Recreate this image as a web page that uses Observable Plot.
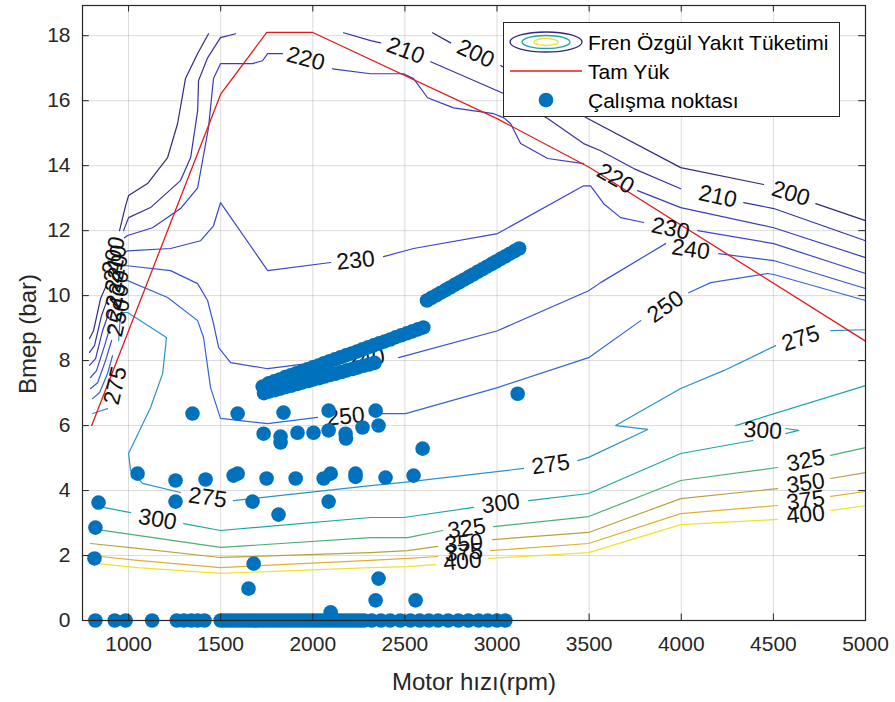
<!DOCTYPE html>
<html><head><meta charset="utf-8">
<script src="https://cdn.jsdelivr.net/npm/d3@7"></script>
<script src="https://cdn.jsdelivr.net/npm/@observablehq/plot@0.6"></script>
<style>
body{margin:0;background:#fff;font-family:"Liberation Sans",Arial,sans-serif;}
#wrap{position:relative;width:895px;height:702px;}
#legend{position:absolute;left:503px;top:22px;width:337px;height:95px;box-sizing:border-box;border:1px solid #262626;background:#fff;}
#legend svg{position:absolute;left:0;top:0;}
#legend .lt{position:absolute;left:84px;font-size:21px;line-height:21px;color:#000;white-space:nowrap;}
#ylab{position:absolute;left:28px;top:334px;transform:translate(-50%,-50%) rotate(-90deg);font-size:24px;line-height:24px;color:#262626;white-space:nowrap;}
</style></head>
<body><div id="wrap"></div>
<script>
// ---------- axes ----------
const xTicks = [1000,1500,2000,2500,3000,3500,4000,4500,5000];
const yTicks = [0,2,4,6,8,10,12,14,16,18];
const xDomain = [750, 5000];
const yDomain = [0, 18.93];

// ---------- contour levels (BSFC g/kWh) ----------
const levels = [200,210,220,230,240,250,275,300,325,350,375,400];
const levelColors = ["#2e2a7e","#3433a6","#3a3cc0","#3b46ca","#3a50d2","#3464d6","#2b92c8","#1ea6a6","#4caf74","#b8a23e","#deb02e","#ece42a"];

// each contour: list of segments, each segment list of [rpm, bmep]
const c200 = [
  [[788,8.68],[810,8.92],[848,9.91],[886,10.4]],
  [[951,12.0],[984,12.77],[1000,13.08],[1103,13.45],[1212,14.25],[1266,15.29],[1309,16.68],[1375,17.45],[1434,18.06]],
  [[2650,18.09],[2748,17.78]],
  [[3020,17.08],[3492,15.45],[3997,13.94],[4447,13.42]],
  [[4730,12.83],[5000,12.31]]
];
const c210 = [
  [[788,8.25],[815,8.46],[853,9.38],[891,9.97]],
  [[973,12.0],[1000,12.4],[1119,12.71],[1282,13.54],[1337,14.25],[1375,15.69],[1380,16.62],[1429,17.32],[1499,17.94],[1581,18.06]],
  [[2167,18.09],[2314,17.85],[2368,17.78]],
  [[2640,17.2],[3036,16.22],[3275,15.45],[3470,14.68],[3562,14.46],[3742,13.91],[3997,13.29]],
  [[4339,12.86],[4502,12.68],[5000,11.69]]
];
const c220 = [
  [[788,7.85],[821,8.06],[859,8.92],[897,9.54]],
  [[978,11.78],[995,11.85],[1130,12.09],[1282,12.68],[1375,13.32],[1434,15.17],[1461,16.68],[1499,17.14],[1673,17.14],[1727,17.23],[1755,17.45],[1836,17.45]],
  [[2107,16.98],[2314,16.83],[2493,16.83],[2547,16.68],[2623,16.09],[2764,15.78],[2981,15.6],[3036,15.48],[3074,15.29],[3128,14.68],[3275,14.22],[3470,14.06]],
  [[3763,13.23],[3997,12.71],[4502,12.09],[5000,11.17]]
];
const c230 = [
  [[794,7.48],[826,7.69],[870,8.46],[902,9.08]],
  [[978,11.32],[995,11.38],[1228,11.45],[1391,11.69],[1461,12.15],[1499,12.86],[1755,10.77],[2097,11.02]],
  [[2384,11.2],[2547,11.45],[3003,11.91],[3470,13.38],[3508,13.38],[3579,12.83],[3671,12.4],[3796,12.25]],
  [[4089,12.0],[4502,11.6],[5000,10.68]]
];
const c240 = [
  [[794,7.14],[832,7.32],[875,8.0],[908,8.62]],
  [[978,10.92],[995,10.92],[1228,10.77],[1375,10.37],[1429,9.85],[1461,9.14],[1489,8.4],[1554,7.94],[1755,7.75],[2097,8.0]],
  [[2466,8.09],[3003,8.92],[3497,10.15],[3562,10.4],[3915,11.6]],
  [[4203,11.29],[4502,11.08],[5000,10.22]]
];
const c250 = [
  [[805,6.83],[843,7.02],[886,7.6],[913,8.15]],
  [[978,10.46],[995,10.46],[1212,9.94],[1375,9.23],[1407,8.71],[1445,7.17],[1499,6.22],[1755,6.06],[2026,6.25]],
  [[2352,6.37],[2504,6.37],[3003,7.17],[3497,8.09],[3780,9.23]],
  [[4040,10.09],[4160,10.4],[4469,10.68],[4502,10.65],[5000,9.85]]
];
const c275 = [
  [[805,6.37],[886,6.52]],
  [[946,8.62],[957,9.48],[995,9.48],[1206,8.71],[1185,7.6],[1119,6.55],[1054,5.78],[1000,5.14],[1011,4.62],[1076,4.22],[1282,3.94]],
  [[1570,3.69],[2314,4.15],[2493,4.25],[3144,4.68]],
  [[3438,4.92],[3497,5.02],[3818,5.88],[3644,6.0],[3997,7.14],[4230,7.69],[4512,8.46]],
  [[4811,8.92],[5000,8.95]]
];
const c300 = [
  [[864,3.48],[1011,3.32]],
  [[1299,2.98],[1499,2.77],[2314,3.17],[2493,3.17],[2873,3.48]],
  [[3172,3.69],[3497,3.91],[3997,5.14],[4388,5.54]],
  [[4567,5.75],[4637,5.85],[4567,5.91]],
  [[4295,6.0],[5000,7.23]]
];
const c325 = [
  [[794,2.83],[1049,2.62],[1499,2.25],[2314,2.55],[2515,2.55],[2705,2.77]],
  [[2982,2.89],[3497,3.2],[3997,4.31],[4523,4.71]],
  [[4811,5.08],[5000,5.32]]
];
const c350 = [
  [[794,2.37],[1049,2.22],[1499,1.94],[2314,2.09],[2515,2.15],[2678,2.28]],
  [[2976,2.49],[3497,2.71],[3997,3.75],[4523,4.06]],
  [[4811,4.37],[5000,4.55]]
];
const c375 = [
  [[794,2.0],[1049,1.85],[1499,1.63],[2314,1.85],[2515,1.91],[2678,1.97]],
  [[2965,2.15],[3497,2.37],[3997,3.29],[4523,3.54]],
  [[4811,3.82],[5000,3.97]]
];
const c400 = [
  [[837,1.75],[1049,1.63],[1499,1.45],[2314,1.63],[2515,1.66],[2667,1.72]],
  [[2954,1.91],[3497,2.09],[3997,2.95],[4523,3.11]],
  [[4811,3.38],[5000,3.54]]
];
const contourSets = [c200,c210,c220,c230,c240,c250,c275,c300,c325,c350,c375,c400];

// inline contour labels: [rpm, bmep, level, angle]
const contourLabels = [
  [919,11.23,200,-77],[929,10.98,210,-77],[935,10.68,220,-77],[940,10.2,230,-77],[940,9.78,240,-77],[946,9.32,250,-77],[929,7.23,275,-77],
  [1961,17.29,220,15],[2504,17.54,210,21],[2884,17.45,200,25],
  [3644,13.6,220,30],[3942,12.06,230,12],[4198,13.05,210,12],[4594,13.14,200,17],[4051,11.42,240,8],[3915,9.66,250,-35],
  [2232,11.08,230,-6],[2287,8.06,240,-8],[2178,6.28,250,-5],
  [4648,8.68,275,-18],[3291,4.8,275,-8],[1429,3.78,275,8],
  [1157,3.11,300,10],[3020,3.6,300,-8],[4442,5.85,300,3],
  [2835,2.83,325,-8],[2819,2.37,350,-5],[2819,2.09,375,-5],[2813,1.82,400,-5],
  [4675,4.92,325,-12],[4675,4.22,350,-8],[4675,3.69,375,-8],[4675,3.26,400,-5]
];

// ---------- full load curve ----------
const fullLoadRpm  = [800, 1500, 1750, 2000, 3000, 3500, 5000];
const fullLoadBmep = [6.0, 16.2, 18.1, 18.1, 15.45, 13.95, 8.6];

// ---------- operating points ----------
const idleRpm = [820,925,984,1128,1262,1300,1340,1375,1412,1500,1520,1540,1560,1580,1600,1620,1640,1660,1680,1700,1720,1740,1760,1780,1800,1820,1840,1860,1880,1900,1920,1940,1960,1980,2000,2020,2040,2060,2080,2100,2120,2140,2160,2180,2200,2220,2240,2260,2280,2320,2370,2420,2475,2530,2580,2630,2680,2735,2790,2845,2900,2950,3000,3045];
const scatterPts = [
  [837,3.63],[820,2.86],[815,1.91],[1049,4.52],[1255,4.31],[1255,3.66],[1418,4.34],[1570,4.46],[1592,4.52],
  [1673,3.66],[1749,4.37],[1814,3.26],[1679,1.75],[1651,0.98],[1907,4.37],[2059,4.37],[2097,4.52],[2086,3.66],
  [2232,4.52],[2232,4.42],[1733,5.75],[1825,5.66],[1825,5.48],[1917,5.78],[2004,5.78],[2086,5.85],[2178,5.75],
  [2180,5.6],[2270,5.94],[1347,6.37],[1592,6.37],[1841,6.4],[2086,6.46],[2341,6.46],[2357,6.0],[3112,6.98],
  [2596,5.29],[2395,4.4],[2547,4.46],[2357,1.29],[2341,0.62],[2558,0.62],[2097,0.25]
];
const bandLow = [[1728,7.2],[1735,7.0],[1765,7.05],[1795,7.09],[1825,7.14],[1855,7.19],[1885,7.23],[1915,7.28],[1945,7.33],[1975,7.37],[2005,7.42],[2035,7.46],[2065,7.51],[2095,7.56],[2125,7.6],[2155,7.65],[2185,7.7],[2215,7.74],[2245,7.79],[2275,7.84],[2305,7.88],[2335,7.93]];
const bandHigh = [[1760,7.3],[1790,7.36],[1820,7.42],[1850,7.49],[1880,7.55],[1910,7.61],[1940,7.67],[1970,7.73],[2000,7.79],[2030,7.85],[2060,7.92],[2090,7.98],[2120,8.04],[2150,8.1],[2180,8.16],[2210,8.22],[2240,8.28],[2270,8.35],[2300,8.41],[2330,8.47],[2360,8.53],[2390,8.59],[2420,8.65],[2450,8.72],[2480,8.78],[2510,8.84],[2540,8.9],[2570,8.96],[2600,9.02]];
const bandUpper = [[2620,9.85],[2645,9.93],[2670,10.01],[2695,10.09],[2720,10.17],[2745,10.25],[2770,10.33],[2795,10.41],[2820,10.49],[2845,10.57],[2870,10.65],[2895,10.73],[2920,10.81],[2945,10.89],[2970,10.97],[2995,11.05],[3020,11.13],[3045,11.21],[3070,11.29],[3095,11.37],[3120,11.45]];

const legendLabels = ["Fren Özgül Yakıt Tüketimi", "Tam Yük", "Çalışma noktası"];
const xLabel = "Motor hızı(rpm)";
const yLabel = "Bmep (bar)";

// ---------- build tables ----------
const contourRows = [];
levels.forEach((lv, i) => contourSets[i].forEach((seg, j) =>
  seg.forEach(([rpm, bmep]) => contourRows.push({level: lv, seg: lv + "-" + j, rpm, bmep}))));
const fullLoad = fullLoadRpm.map((r, i) => ({rpm: r, bmep: fullLoadBmep[i]}));
const opRows = [
  ...idleRpm.map(r => ({rpm: r, bmep: 0})),
  ...scatterPts.map(([rpm, bmep]) => ({rpm, bmep})),
  ...bandLow.map(([rpm, bmep]) => ({rpm, bmep})),
  ...bandHigh.map(([rpm, bmep]) => ({rpm, bmep})),
  ...bandUpper.map(([rpm, bmep]) => ({rpm, bmep}))
];
const labelRows = contourLabels.map(([rpm, bmep, level, angle]) => ({rpm, bmep, text: String(level), angle}));

const axisColor = "#262626";
const tickLenY = 0.2;   // inward tick length on x axes (bar)
const tickLenX = 37;    // inward tick length on y axes (rpm)

const chart = Plot.plot({
  width: 895, height: 702,
  marginLeft: 82, marginRight: 30, marginTop: 5, marginBottom: 82,
  style: {fontFamily: "'Liberation Sans', Arial, sans-serif", color: axisColor, background: "#fff", overflow: "visible"},
  x: {domain: xDomain},
  y: {domain: yDomain},
  color: {type: "ordinal", domain: levels, range: levelColors},
  marks: [
    Plot.gridX(xTicks, {stroke: "#000", strokeOpacity: 0.14}),
    Plot.gridY(yTicks, {stroke: "#000", strokeOpacity: 0.14}),
    Plot.line(contourRows, {x: "rpm", y: "bmep", z: "seg", stroke: "level", strokeWidth: 1.2}),
    Plot.line(fullLoad, {x: "rpm", y: "bmep", stroke: "#e41a1c", strokeWidth: 1.3}),
    Plot.text(labelRows, {x: "rpm", y: "bmep", text: "text", rotate: "angle", fontSize: 23, fill: "#111"}),
    Plot.dot(opRows, {x: "rpm", y: "bmep", r: 7.3, fill: "#0072BD", stroke: null}),
    Plot.ruleX(xTicks, {x: d => d, y1: yDomain[0], y2: yDomain[0] + tickLenY, stroke: axisColor}),
    Plot.ruleX(xTicks, {x: d => d, y1: yDomain[1] - tickLenY, y2: yDomain[1], stroke: axisColor}),
    Plot.ruleY(yTicks, {y: d => d, x1: xDomain[0], x2: xDomain[0] + tickLenX, stroke: axisColor}),
    Plot.ruleY(yTicks, {y: d => d, x1: xDomain[1] - tickLenX, x2: xDomain[1], stroke: axisColor}),
    Plot.frame({stroke: axisColor, strokeWidth: 1.2}),
    Plot.axisX({ticks: xTicks, tickSize: 0, tickPadding: 16, fontSize: 21, label: null, tickFormat: d => String(d)}),
    Plot.axisY({ticks: yTicks, tickSize: 0, tickPadding: 12, fontSize: 21, label: null, tickFormat: d => String(d)}),
    Plot.text([xLabel], {frameAnchor: "bottom", dy: 62, fontSize: 24, fill: axisColor, textAnchor: "middle", lineAnchor: "middle"})
  ]
});
const wrap = document.getElementById("wrap");
wrap.appendChild(chart);

// y-axis title (rotated)
const ylab = document.createElement("div");
ylab.id = "ylab";
ylab.textContent = yLabel;
wrap.appendChild(ylab);

// ---------- legend ----------
const legend = document.createElement("div");
legend.id = "legend";
legend.innerHTML = `<svg width="335" height="93">
  <ellipse cx="42" cy="19" rx="36" ry="10" fill="none" stroke="${levelColors[0]}" stroke-width="1.3"/>
  <ellipse cx="42" cy="19" rx="24" ry="6.5" fill="none" stroke="${levelColors[7]}" stroke-width="1.3"/>
  <ellipse cx="42" cy="19" rx="12" ry="3.5" fill="none" stroke="${levelColors[11]}" stroke-width="1.3"/>
  <line x1="6" x2="78" y1="48" y2="48" stroke="#e41a1c" stroke-width="1.3"/>
  <circle cx="42" cy="77" r="7.3" fill="#0072BD"/>
</svg>`;
[9, 38, 67].forEach((top, i) => {
  const d = document.createElement("div");
  d.className = "lt";
  d.style.top = top + "px";
  d.textContent = legendLabels[i];
  legend.appendChild(d);
});
wrap.appendChild(legend);
</script>
</body></html>
